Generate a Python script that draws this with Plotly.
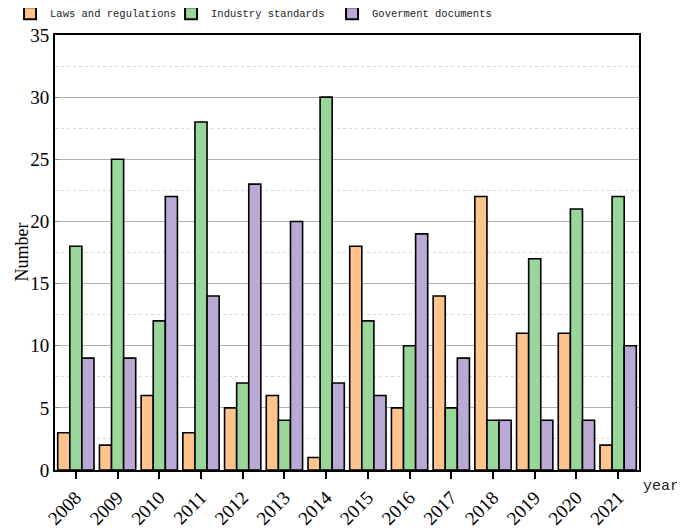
import plotly.graph_objects as go

years = ["2008","2009","2010","2011","2012","2013","2014","2015","2016","2017","2018","2019","2020","2021"]
laws = [3,2,6,3,5,6,1,18,5,14,22,11,11,2]
industry = [18,25,12,28,7,4,30,12,10,5,4,17,21,22]
gov = [9,9,22,14,23,20,7,6,19,9,4,4,4,10]

series = [
    ("Laws and regulations", laws, "#FFC48C"),
    ("Industry standards", industry, "#98D699"),
    ("Goverment documents", gov, "#BBA9D5"),
]

fig = go.Figure()
for name, vals, col in series:
    fig.add_trace(go.Bar(x=years, y=vals, name=name, marker=dict(color=col, line=dict(color="black", width=1.6))))

fig.update_layout(
    width=685, height=531,
    margin=dict(l=47, r=54, t=27, b=69, autoexpand=False),
    plot_bgcolor="white", paper_bgcolor="white",
    barmode="group", bargap=0.13, bargroupgap=0,
    legend=dict(orientation="h", x=0.003, xref="container", y=1.05, yref="paper", yanchor="middle",
                font=dict(family="Liberation Mono", size=10.5, color="#222"),
                itemsizing="constant", bgcolor="rgba(0,0,0,0)", entrywidth=116, entrywidthmode="pixels"),
    xaxis=dict(type="category", range=[-0.5, 13.5], tickangle=-45,
               tickfont=dict(family="Liberation Serif", size=19, color="black"),
               ticks="outside", ticklen=7, tickwidth=2, tickcolor="black",
               showline=True, linecolor="black", linewidth=2, mirror=True, showgrid=False),
    yaxis=dict(range=[0, 35], dtick=5, tickfont=dict(family="Liberation Serif", size=19, color="black"),
               ticks="inside", ticklen=4, tickwidth=1, tickcolor="#888",
               showline=True, linecolor="black", linewidth=2, mirror=True,
               showgrid=True, gridcolor="#B0B0B0", gridwidth=1, zeroline=False,
               minor=dict(dtick=2.5, showgrid=True, gridcolor="#D8D8D8", griddash="dot", gridwidth=1)),
)
fig.add_annotation(text="Number", textangle=-90, x=0, xref="paper", xanchor="left", xshift=-46,
                   y=0.5, yref="paper", yanchor="middle", showarrow=False,
                   font=dict(family="Liberation Serif", size=18, color="black"))
fig.add_annotation(text="year", x=1.0, xref="paper", xanchor="left", xshift=2, y=0, yref="paper", yanchor="top", yshift=-6,
                   showarrow=False, font=dict(family="Liberation Mono", size=15, color="#222"))
fig.write_html("out.html")
